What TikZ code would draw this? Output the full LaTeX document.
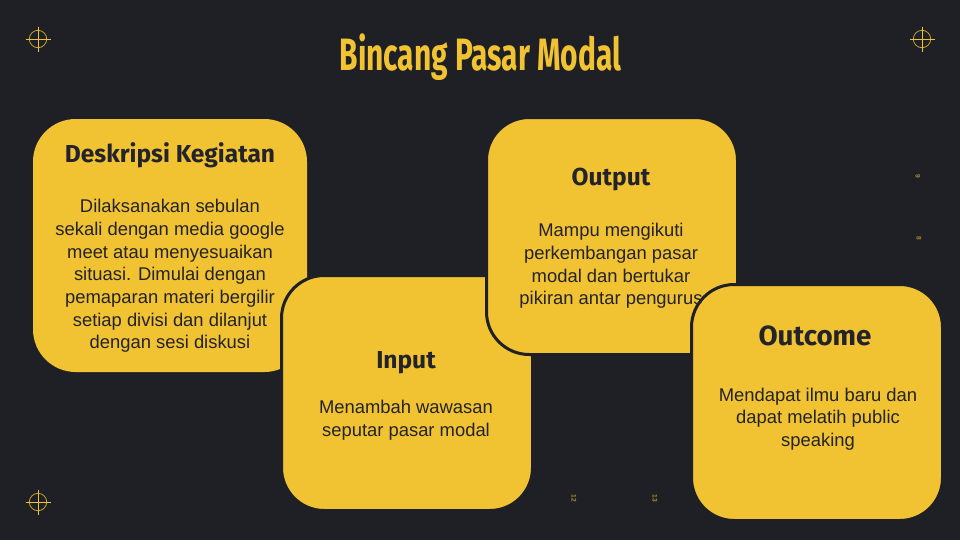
\documentclass[tikz,border=0pt]{standalone}
\usepackage{fontspec}
\setmainfont{Liberation Sans}
\newfontfamily\headfont{Fira Sans}
\newfontfamily\titlefont{Fira Sans}[FakeStretch=0.66]
\definecolor{bgdark}{HTML}{1E2026}
\definecolor{boxyellow}{HTML}{F1C231}
\definecolor{ringgold}{HTML}{C9A22C}
\definecolor{textdark}{HTML}{23232B}
\definecolor{dimgold}{HTML}{A88A2C}
\tikzset{
  x=0.75pt,y=-0.75pt,
  card/.style={fill=boxyellow,rounded corners=32pt,anchor=north west,inner sep=0pt,outer sep=0pt},
  edged/.style={card,draw=bgdark,line width=2.25pt},
  heading/.style={text=textdark,font=\headfont\bfseries\fontsize{18.4}{22}\selectfont},
  body/.style={text=textdark,align=center,font=\fontsize{13.8}{17}\selectfont},
  tiny/.style={text=dimgold,font=\fontsize{5}{5}\selectfont\bfseries,rotate=-90},
  crossring/.style={draw=ringgold,line width=0.6pt},
  crossline/.style={draw=boxyellow,line width=0.7pt},
}
\newcommand{\crosshair}[2]{%
  \draw[crossring] (#1,#2) circle[radius=8.7];
  \draw[crossline] (#1-12.5,#2) -- (#1+12.5,#2);
  \draw[crossline] (#1,#2-12.5) -- (#1,#2+12.5);
}
\begin{document}
\begin{tikzpicture}
\fill[bgdark] (0,0) rectangle (960,540);
\useasboundingbox (0,0) rectangle (960,540);
\crosshair{38}{39}
\crosshair{922}{39}
\crosshair{38}{502}
\node[text=boxyellow,font=\titlefont\fontsize{34}{38}\selectfont\bfseries] (title) at (480.5,57) {Bincang Pasar Modal};
\node[card,minimum width=205.5pt,minimum height=189.75pt] (deskripsi) at (33,119) {};
\node[edged,minimum width=188.25pt,minimum height=176.25pt] (input) at (281.5,275.5) {};
\node[edged,minimum width=188.25pt,minimum height=177.75pt] (output) at (486.5,117.5) {};
\node[edged,minimum width=188.25pt,minimum height=177pt] (outcome) at (691.5,284.5) {};
\node[heading] (h1) at (170,155) {Deskripsi Kegiatan};
\node[body] (b1) at (170,276) {Dilaksanakan sebulan\\sekali dengan media google\\meet atau menyesuaikan\\situasi. Dimulai dengan\\pemaparan materi bergilir\\setiap divisi dan dilanjut\\dengan sesi diskusi};
\node[heading] (h2) at (406,362.5) {Input};
\node[body] (b2) at (406,420.5) {Menambah wawasan\\seputar pasar modal};
\node[heading] (h3) at (611,179.5) {Output};
\node[body] (b3) at (611,266) {Mampu mengikuti\\perkembangan pasar\\modal dan bertukar\\pikiran antar pengurus};
\node[heading,font=\headfont\bfseries\fontsize{20.8}{24}\selectfont] (h4) at (815,336) {Outcome};
\node[body] (b4) at (818,419) {Mendapat ilmu baru dan\\dapat melatih public\\speaking};
\node[tiny] (n1) at (918,176) {9};
\node[tiny] (n2) at (919,238) {8};
\node[tiny] (n3) at (574,498) {12};
\node[tiny] (n4) at (655,498) {13};
\end{tikzpicture}
\end{document}
